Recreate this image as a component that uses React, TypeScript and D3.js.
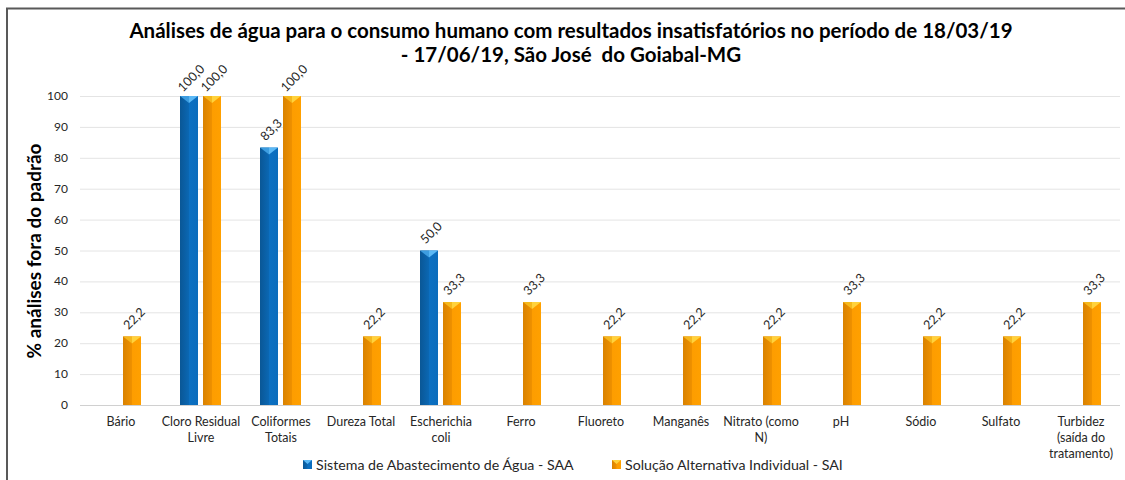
import React, { useEffect, useRef } from 'react';
import * as d3 from 'd3';

// categorias do eixo x (quebras de linha como no original)
const categories: string[][] = [
  ['Bário'],
  ['Cloro Residual', 'Livre'],
  ['Coliformes', 'Totais'],
  ['Dureza Total'],
  ['Escherichia', 'coli'],
  ['Ferro'],
  ['Fluoreto'],
  ['Manganês'],
  ['Nitrato (como', 'N)'],
  ['pH'],
  ['Sódio'],
  ['Sulfato'],
  ['Turbidez', '(saída do', 'tratamento)'],
];

const saaValues: (number | null)[] = [null, 100, 83.3, null, 50, null, null, null, null, null, null, null, null];
const saiValues: (number | null)[] = [22.2, 100, 100, 22.2, 33.3, 33.3, 22.2, 22.2, 22.2, 33.3, 22.2, 22.2, 33.3];

const yTicks = [0, 10, 20, 30, 40, 50, 60, 70, 80, 90, 100];

const seriesNames = ['Sistema de Abastecimento de Água - SAA', 'Solução Alternativa Individual - SAI'];

const titleLines = [
  'Análises de água para o consumo humano com resultados insatisfatórios no período de 18/03/19',
  '- 17/06/19, São José  do Goiabal-MG',
];

const FONT = 'Lato, "Open Sans", sans-serif';

const App = () => {
  const ref = useRef<SVGSVGElement | null>(null);

  useEffect(() => {
    drawChart();
  }, []);

  const drawChart = () => {
    const svg = d3.select(ref.current);
    svg.selectAll('*').remove();

    const defs = svg.append('defs');
    const grad = (id: string, stops: [number, string][]) => {
      const g = defs.append('linearGradient').attr('id', id)
        .attr('x1', '0%').attr('x2', '100%').attr('y1', '0%').attr('y2', '0%');
      stops.forEach(([o, c]) => g.append('stop').attr('offset', `${o}%`).attr('stop-color', c));
    };
    grad('gBlue', [[0, '#0a5796'], [48, '#0b67b2'], [52, '#0c70c2'], [100, '#0b6cbc']]);
    grad('gOrange', [[0, '#d98200'], [48, '#ee9000'], [52, '#fd9d00'], [100, '#ffa000']]);

    const series = [
      { values: saaValues, fill: 'url(#gBlue)', capL: '#3d9de0', capR: '#5ab8f5', key: 'SAA' },
      { values: saiValues, fill: 'url(#gOrange)', capL: '#f5b81c', capR: '#ffd23c', key: 'SAI' },
    ];

    // moldura (só topo e esquerda visíveis)
    svg.append('path').attr('d', 'M7,1125 L7,8.5 L1125,8.5')
      .attr('fill', 'none').attr('stroke', '#595959').attr('stroke-width', 2);

    const x = d3.scaleBand<number>()
      .domain(categories.map((_, i) => i))
      .range([81, 1121]);

    const xInner = d3.scaleBand<string>()
      .domain(['SAA', 'SAI'])
      .range([19, 60])
      .paddingInner(5 / 23);

    const y = d3.scaleLinear().domain([0, 100]).range([405, 96]);

    // grade
    svg.append('g').selectAll('line')
      .data(yTicks)
      .enter().append('line')
      .attr('x1', 80).attr('x2', 1120)
      .attr('y1', d => y(d) + 0.5).attr('y2', d => y(d) + 0.5)
      .attr('stroke', d => (d === 0 ? '#d0d0d0' : '#e4e4e4'))
      .attr('stroke-width', 1);

    // rótulos do eixo y
    svg.append('g').selectAll('text')
      .data(yTicks)
      .enter().append('text')
      .attr('x', 68).attr('y', d => y(d) + 4)
      .attr('text-anchor', 'end')
      .attr('font-family', FONT).attr('font-size', 12).attr('fill', '#262626')
      .text(d => d);

    // título do eixo y
    svg.append('text')
      .attr('transform', 'translate(41,251) rotate(-90)')
      .attr('text-anchor', 'middle')
      .attr('font-family', FONT).attr('font-size', 19).attr('font-weight', 'bold').attr('fill', '#000')
      .text('% análises fora do padrão');

    // título
    const title = svg.append('text')
      .attr('text-anchor', 'middle')
      .style('white-space', 'pre')
      .attr('font-family', FONT).attr('font-size', 20.5).attr('font-weight', 'bold').attr('fill', '#000');
    titleLines.forEach((t, i) => {
      title.append('tspan').attr('x', 571).attr('y', 38 + i * 24).text(t);
    });

    const fmt = (v: number) => d3.format('.1f')(v).replace('.', ',');
    const bars = svg.append('g');

    series.forEach(s => {
      s.values.forEach((v, i) => {
        if (v == null) return;
        const x0 = (x(i) as number) + (xInner(s.key) as number);
        const w = xInner.bandwidth();
        const x1 = x0 + w;
        const xm = x0 + w / 2;
        const yt = y(v);
        const yb = y(0);
        bars.append('rect')
          .attr('x', x0).attr('y', yt).attr('width', w).attr('height', yb - yt)
          .attr('fill', s.fill);
        bars.append('path')
          .attr('d', `M${x0},${yt}L${xm},${yt}L${xm},${yt + 7}Z`)
          .attr('fill', s.capL);
        bars.append('path')
          .attr('d', `M${xm},${yt}L${x1},${yt}L${xm},${yt + 7}Z`)
          .attr('fill', s.capR);
        bars.append('text')
          .attr('transform', `translate(${xm + 3},${yt - 17}) rotate(-45)`)
          .attr('text-anchor', 'middle')
          .attr('dominant-baseline', 'middle')
          .attr('font-family', FONT).attr('font-size', 12.5).attr('fill', '#262626')
          .text(fmt(v));
      });
    });

    // rótulos das categorias
    const cat = svg.append('g');
    categories.forEach((lines, i) => {
      const t = cat.append('text')
        .attr('text-anchor', 'middle')
        .attr('font-family', FONT).attr('font-size', 12.5).attr('fill', '#262626');
      lines.forEach((l, j) => {
        t.append('tspan')
          .attr('x', (x(i) as number) + x.bandwidth() / 2)
          .attr('y', 426 + j * 16)
          .text(l);
      });
    });

    // legenda
    const legend = [
      { x: 303, ...series[0], name: seriesNames[0] },
      { x: 612, ...series[1], name: seriesNames[1] },
    ];
    legend.forEach(l => {
      svg.append('rect').attr('x', l.x).attr('y', 460).attr('width', 9).attr('height', 9).attr('fill', l.fill);
      svg.append('path').attr('d', `M${l.x},460L${l.x + 9},460L${l.x + 4.5},464Z`).attr('fill', l.capR);
      svg.append('text')
        .attr('x', l.x + 13).attr('y', 469.5)
        .attr('font-family', FONT).attr('font-size', 14.2).attr('fill', '#262626')
        .text(l.name);
    });
  };

  return (
    <svg
      ref={ref}
      width={1125}
      height={480}
      style={{ position: 'absolute', left: 0, top: 0, background: '#fff', display: 'block' }}
    />
  );
};

export default App;
